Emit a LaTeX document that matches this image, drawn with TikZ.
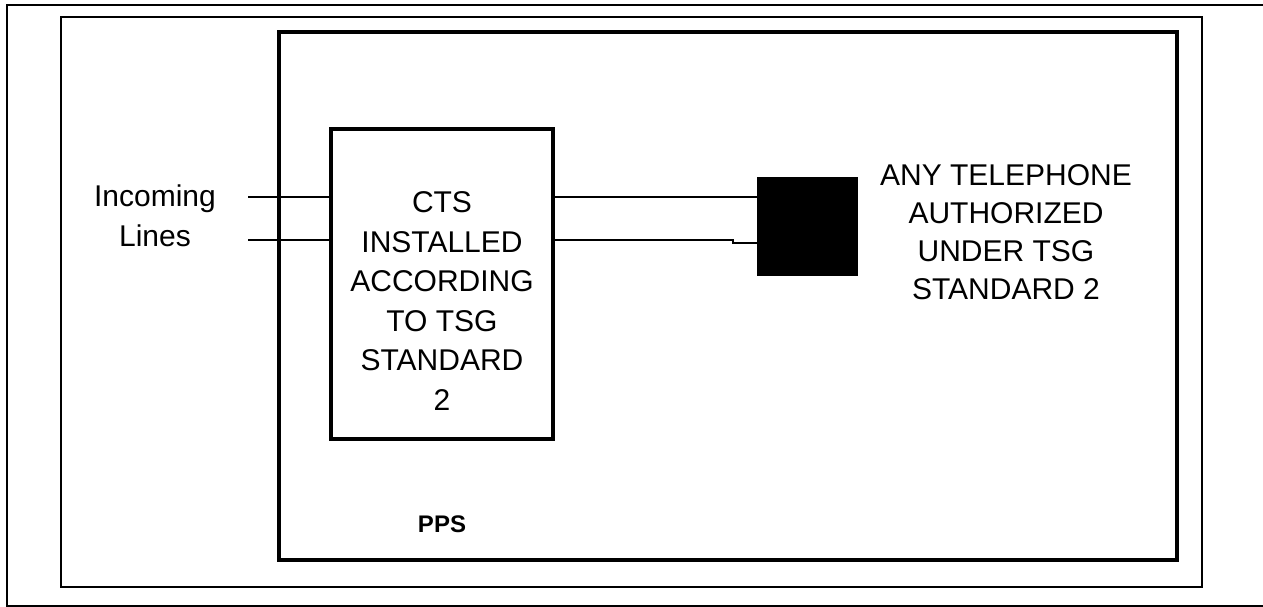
\documentclass[tikz,border=0pt]{standalone}
\usepackage{fontspec}
\setmainfont{Liberation Sans}
\begin{document}
\begin{tikzpicture}[x=1pt,y=-1pt,
  thinframe/.style={draw=black,line width=2pt,minimum width=1141pt,minimum height=570pt,inner sep=0pt},
  thickbox/.style={draw=black,line width=4.5pt,inner sep=0pt},
  wire/.style={line width=2pt,draw=black},
  lbl/.style={align=center,inner sep=0pt,font=\fontsize{30}{40}\selectfont},
  phone/.style={fill=black,draw=black,minimum width=100pt,minimum height=98pt,inner sep=0pt}]
\useasboundingbox (0,0) rectangle (1263,607);
% page frame (table cell)
\coordinate (pgtl) at (7,5);
\coordinate (pgtr) at (1263,5);
\coordinate (pgbl) at (7,606);
\coordinate (pgbr) at (1263,606);
\draw[line width=2pt] (pgtr) -- (pgtl) -- (pgbl) -- (pgbr);
% thin outer frame
\node[thinframe] (frame) at (631.5,302) {};
% PPS box
\node[thickbox,minimum width=898pt,minimum height=528pt] (pps) at (728,296) {};
\node[font=\fontsize{24}{28}\selectfont\bfseries,inner sep=0pt] (ppslbl) at (442,524) {PPS};
% CTS box
\node[thickbox,minimum width=222pt,minimum height=310pt] (cts) at (442,284) {};
\node[lbl,font=\fontsize{30}{39.5}\selectfont] (ctstext) at (442,301) {CTS\\INSTALLED\\ACCORDING\\TO TSG\\STANDARD\\2};
% incoming
\node[lbl] (inc) at (155,216) {Incoming\\Lines};
\coordinate (in1) at (248,197);
\coordinate (in2) at (248,240);
\draw[wire] (in1) -- (cts.west |- in1);
\draw[wire] (in2) -- (cts.west |- in2);
% phone
\node[phone] (tel) at (807,226) {};
\coordinate (step) at (733,240);
\draw[wire] (cts.east |- in1) -- (tel.west |- in1);
\draw[wire] (cts.east |- in2) -- (step) -- ++(0,3) -- (tel.west |- 0,243);
\node[lbl,font=\fontsize{30}{38}\selectfont] (teltext) at (1006,232) {ANY TELEPHONE\\AUTHORIZED\\UNDER TSG\\STANDARD 2};
\end{tikzpicture}
\end{document}
